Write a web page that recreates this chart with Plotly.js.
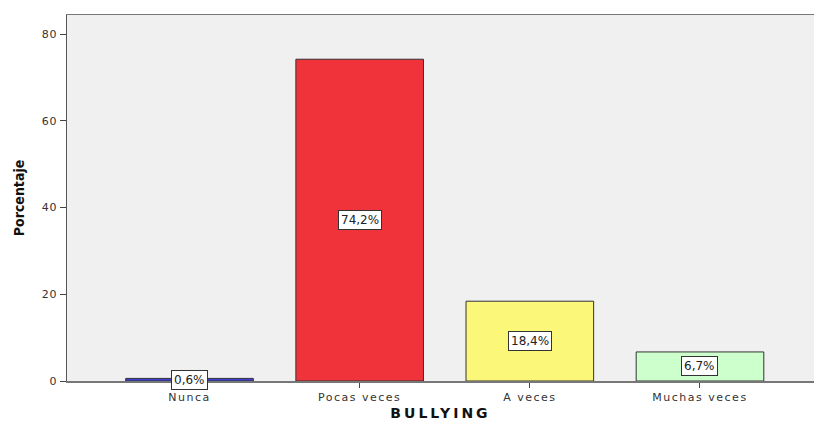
<!DOCTYPE html>
<html>
<head>
<meta charset="utf-8">
<script src="https://cdn.plot.ly/plotly-3.0.1.min.js"></script>
<style>
html,body{margin:0;padding:0;background:#fff;}
#chart{width:814px;height:421px;}
#chart .xtick text{letter-spacing:1.5px;}
#chart .ytick text{letter-spacing:0.8px;}
#chart .xtitle{letter-spacing:3px;}
</style>
</head>
<body>
<div id="chart"></div>
<script>
var categories = ["Nunca", "Pocas veces", "A veces", "Muchas veces"];
var percentages = [0.6, 74.2, 18.4, 6.7];
var labels = ["0,6%", "74,2%", "18,4%", "6,7%"];
var barColors = ["#3d3dd8", "#f0333b", "#fbf778", "#ccffcc"];

var trace = {
  type: "bar",
  x: [0, 1, 2, 3],
  y: percentages,
  width: 0.75,
  marker: {color: barColors, line: {color: "#333333", width: 1}},
  hoverinfo: "skip"
};

var annotations = percentages.map(function(v, i){
  return {
    x: i, y: v / 2, xref: "x", yref: "y",
    text: labels[i], showarrow: false,
    font: {family: "DejaVu Sans, sans-serif", size: 12, color: "#222"},
    bgcolor: "#ffffff", bordercolor: "#333333", borderwidth: 1, borderpad: 2
  };
});

var layout = {
  width: 814, height: 421,
  margin: {l: 67, r: 0, t: 15, b: 40},
  paper_bgcolor: "#ffffff",
  plot_bgcolor: "#f0f0f0",
  showlegend: false,
  bargap: 0,
  xaxis: {
    range: [-0.72, 3.67],
    tickvals: [0, 1, 2, 3],
    ticktext: categories,
    ticks: "outside", ticklen: 5, tickcolor: "#444", tickwidth: 1,
    showline: true, linecolor: "#777", linewidth: 1.5, mirror: true,
    showgrid: false, zeroline: false,
    tickfont: {family: "DejaVu Sans, sans-serif", size: 11, color: "#333"},
    title: {text: "<b>BULLYING</b>", font: {family: "DejaVu Sans, sans-serif", size: 14, color: "#111"}, standoff: 10}
  },
  yaxis: {
    range: [0, 84.4],
    tickvals: [0, 20, 40, 60, 80],
    ticks: "outside", ticklen: 6, tickcolor: "#444", tickwidth: 1,
    showline: true, linecolor: "#555", linewidth: 1.5,
    showgrid: false, zeroline: false,
    tickfont: {family: "DejaVu Sans, sans-serif", size: 11, color: "#333"},
    title: {text: "<b>Porcentaje</b>", font: {family: "DejaVu Sans Condensed, sans-serif", size: 14, color: "#111"}, standoff: 15}
  },
  annotations: annotations
};

Plotly.newPlot("chart", [trace], layout, {displayModeBar: false, staticPlot: true});
</script>
</body>
</html>
